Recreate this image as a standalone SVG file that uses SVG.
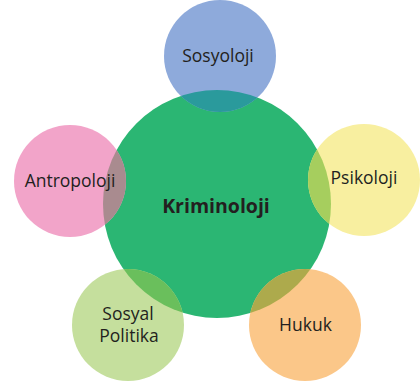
<svg xmlns="http://www.w3.org/2000/svg" width="420" height="384" viewBox="0 0 420 384">
<style>
.t{font-family:"Open Sans","Noto Sans","Liberation Sans",sans-serif;font-size:17.5px;fill:#231F20;text-anchor:middle}
.b{font-weight:bold;font-size:19.5px}
</style>
<defs>
<clipPath id="cm"><circle cx="217" cy="204" r="114"/></clipPath>
</defs>
<rect width="420" height="384" fill="#fff"/>
<g id="kriminoloji"><circle cx="217" cy="204" r="114" fill="#2BB673"/></g>
<g id="sosyoloji"><circle cx="220" cy="56" r="56" fill="#8EAADB"/><circle cx="220" cy="56" r="56" fill="#2A9A9C" clip-path="url(#cm)"/><text class="t" x="218" y="62">Sosyoloji</text></g>
<g id="antropoloji"><circle cx="70" cy="181" r="56" fill="#F2A4C9"/><circle cx="70" cy="181" r="56" fill="#A98B8F" clip-path="url(#cm)"/><text class="t" x="70" y="187">Antropoloji</text></g>
<g id="psikoloji"><circle cx="364" cy="180" r="56" fill="#F8EFA0"/><circle cx="364" cy="180" r="56" fill="#A6CE5E" clip-path="url(#cm)"/><text class="t" x="364" y="184">Psikoloji</text></g>
<g id="sosyal-politika"><circle cx="128" cy="325" r="56" fill="#C5DF9D"/><circle cx="128" cy="325" r="56" fill="#6ABF5C" clip-path="url(#cm)"/><text class="t" x="128" y="320">Sosyal</text><text class="t" x="129" y="342">Politika</text></g>
<g id="hukuk"><circle cx="305" cy="325" r="56" fill="#FBC789"/><circle cx="305" cy="325" r="56" fill="#ADAA4C" clip-path="url(#cm)"/><text class="t" x="305.5" y="331">Hukuk</text></g>
<text class="t b" x="216" y="213">Kriminoloji</text>
<g id="connectors"/>
</svg>
